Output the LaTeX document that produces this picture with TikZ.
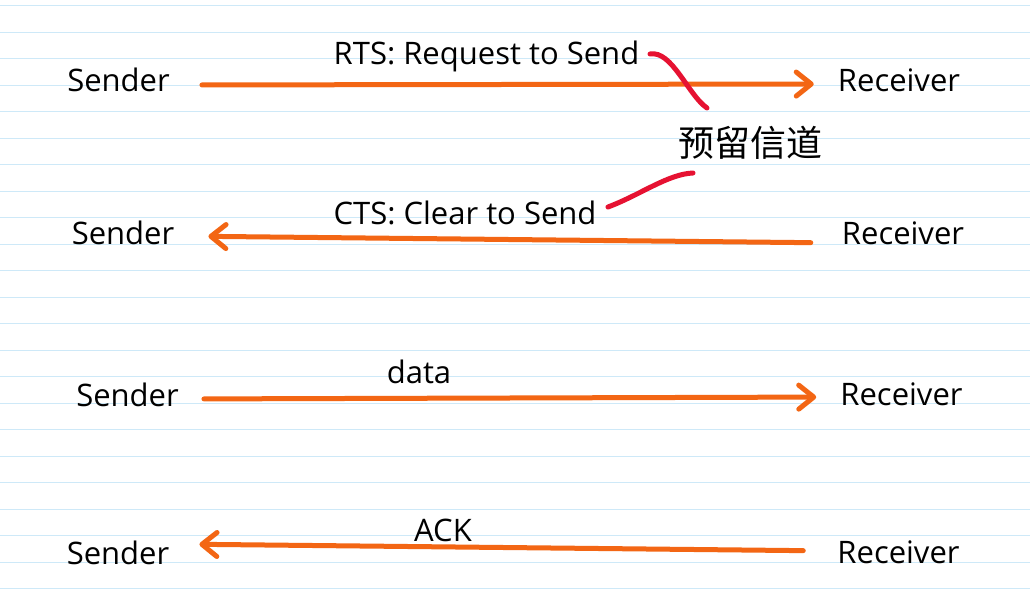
\documentclass[tikz,border=0pt]{standalone}
\usepackage{fontspec}
\setmainfont{Open Sans}
\newfontfamily\cjkfont{Noto Sans CJK SC}
\usetikzlibrary{arrows.meta,positioning}
\definecolor{ruleblue}{RGB}{206,233,248}
\definecolor{arroworange}{RGB}{243,102,20}
\definecolor{notered}{RGB}{230,18,50}
\tikzset{
  party/.style={inner sep=0pt, anchor=base, text height=22pt, text depth=0pt, font=\fontsize{31}{36}\selectfont},
  msg/.style={inner sep=0pt, anchor=base, text height=22pt, text depth=0pt, font=\fontsize{31}{36}\selectfont},
  note/.style={inner sep=0pt, font=\cjkfont\fontsize{36}{40}\selectfont},
  msgarrow/.style={-{Straight Barb[length=15pt,width=24pt,round]}, line width=5pt, line cap=round, draw=arroworange},
  ruling/.style={draw=ruleblue, line width=1.2pt},
  notecurve/.style={draw=notered, line width=5pt, line cap=round}
}
\begin{document}
\begin{tikzpicture}[x=1pt, y=-1pt]
\useasboundingbox (0,0) rectangle (1030,609);
\fill[white] (0,0) rectangle (1030,609);
% notebook lines
\foreach \k in {0,...,22}
  \draw[ruling] (0,{5.7+26.5*\k}) -- (1030,{5.7+26.5*\k});

% RTS
\node[party] (s1) at (118.5,91.7) {Sender};
\node[party] (r1) at (899,91.7) {Receiver};
\node[msg] (rts) at (486.5,64.3) {RTS: Request to Send};
% CTS
\node[party] (s2) at (123,245) {Sender};
\node[party] (r2) at (903,245) {Receiver};
\node[msg] (cts) at (465,225) {CTS: Clear to Send};
% data
\node[party] (s3) at (127.5,406) {Sender};
\node[party] (r3) at (901.5,405) {Receiver};
\node[msg] (dat) at (419,383.3) {data};
% ACK
\node[party] (s4) at (118,564) {Sender};
\node[party] (r4) at (898.5,563) {Receiver};
\node[msg] (ack) at (443,541.7) {ACK};

\node[note] (resv) at (750,143) {预留信道};

\draw[msgarrow, shorten <=32pt, shorten >=24pt] ([yshift=-4.3pt]s1.east) -- ([yshift=-3.3pt]r1.west);
\draw[msgarrow, shorten <=31pt, shorten >=34pt] ([yshift=-9pt]r2.west) -- ([yshift=-2pt]s2.east);
\draw[msgarrow, shorten <=25pt, shorten >=24pt] ([yshift=-4pt]s3.east) -- ([yshift=-3pt]r3.west);
\draw[msgarrow, shorten <=34pt, shorten >=30pt] ([yshift=1pt]r4.west) -- ([yshift=9pt]s4.east);

% marks to the note
\coordinate (m1a) at (650,54);
\coordinate (m1b) at (707,108);
\coordinate (m2a) at (608,207);
\coordinate (m2b) at (693,173);
\draw[notecurve] (m1a) .. controls (672,50) and (688,95) .. (m1b);
\draw[notecurve] (m2a) .. controls (640,195) and (668,174) .. (m2b);
\end{tikzpicture}
\end{document}
